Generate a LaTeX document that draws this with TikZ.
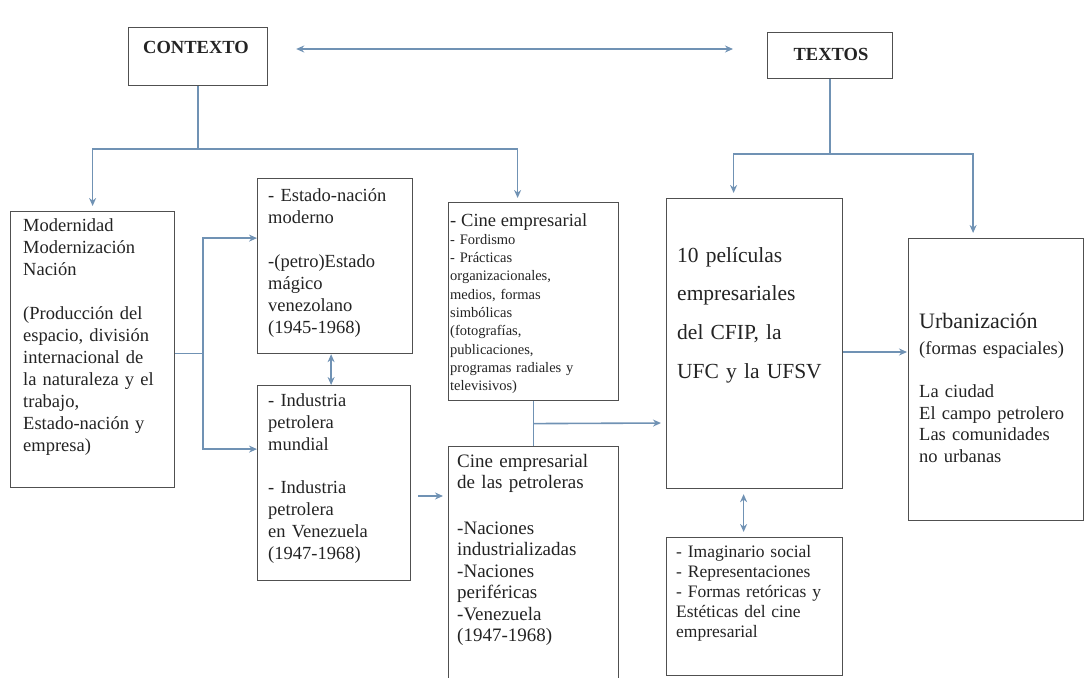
\documentclass[tikz,border=0pt]{standalone}
\usepackage{fontspec}
\setmainfont{Liberation Serif}
\usetikzlibrary{calc,arrows.meta}
\definecolor{azul}{RGB}{112,146,180}
\definecolor{borde}{RGB}{80,80,80}
\definecolor{tinta}{RGB}{35,35,35}
\begin{document}
\begin{tikzpicture}[x=1pt,y=-1pt,>={Stealth[length=8pt,width=7pt]},
    caja/.style={draw=borde,line width=1.2pt,anchor=north west,inner sep=0pt},
    txt/.style={anchor=base west,align=left,inner sep=0pt,text width=215pt,text=tinta,font=\fontsize{18.5}{22}\selectfont},
    flecha/.style={draw=azul,line width=1.6pt}]
        \useasboundingbox (0,0) rectangle (1091,677);
        \clip (0,0) rectangle (1091,677);
        \node[caja,minimum width=139pt,minimum height=58pt] (contexto) at (128,27) {};
        \node[caja,minimum width=125pt,minimum height=46pt] (textos) at (767,32) {};
        \node[caja,minimum width=164pt,minimum height=276pt] (moder) at (10,211) {};
        \node[caja,minimum width=155pt,minimum height=175pt] (estado) at (257,178) {};
        \node[caja,minimum width=153pt,minimum height=195pt] (industria) at (257,385) {};
        \node[caja,minimum width=170pt,minimum height=198pt] (cine) at (448,202) {};
        \node[caja,minimum width=170pt,minimum height=260pt] (petroleras) at (448,446) {};
        \node[caja,minimum width=176pt,minimum height=290pt] (peliculas) at (666,198) {};
        \node[caja,minimum width=175pt,minimum height=282pt] (urbaniz) at (908,238) {};
        \node[caja,minimum width=176pt,minimum height=138pt] (imaginario) at (666,537) {};
        \node[text=tinta,font=\bfseries\fontsize{18.5}{22}\selectfont] (contexto-t) at (196,47) {CONTEXTO};
        \node[text=tinta,font=\bfseries\fontsize{18.5}{22}\selectfont] (textos-t) at (831,54) {TEXTOS};
        \node[txt] (moder-t) at (23,231) {Modernidad\\ Modernización\\ Nación\\[22pt]
            (Producción del\\ espacio, división\\ internacional de\\ la naturaleza y el\\ trabajo,\\ Estado-nación y\\ empresa)};
        \node[txt] (estado-t) at (268,201) {- Estado-nación\\ moderno\\[22pt]
            -(petro)Estado\\ mágico\\ venezolano\\ (1945-1968)};
        \node[txt] (industria-t) at (268,406) {- Industria\\ petrolera\\ mundial\\[21pt]
            - Industria\\ petrolera\\ en Venezuela\\ (1947-1968)};
        \node[txt,font=\fontsize{14.5}{18.3}\selectfont] (cine-t) at (450,226) {{\fontsize{18.5}{18}\selectfont - Cine empresarial}\\
            - Fordismo\\ - Prácticas\\ organizacionales,\\ medios, formas\\ simbólicas\\ (fotografías,\\ publicaciones,\\ programas radiales y\\ televisivos)};
        \node[txt,font=\fontsize{19}{21.5}\selectfont] (petroleras-t) at (457,467) {Cine empresarial\\ de las petroleras\\[24pt]
            -Naciones\\ industrializadas\\ -Naciones\\ periféricas\\ -Venezuela\\ (1947-1968)};
        \node[txt,font=\fontsize{21.5}{38.7}\selectfont] (peliculas-t) at (677,262) {10 películas\\ empresariales\\ del CFIP, la\\ UFC y la UFSV};
        \node[txt,font=\fontsize{18.5}{21.7}\selectfont] (urbaniz-t) at (919,328) {{\fontsize{22}{22}\selectfont Urbanización}\\[5pt]
            (formas espaciales)\\[21pt] La ciudad\\ El campo petrolero\\ Las comunidades\\ no urbanas};
        \node[txt,font=\fontsize{17.5}{20}\selectfont] (imaginario-t) at (676,557) {- Imaginario social\\ - Representaciones\\
            - Formas retóricas y\\ Estéticas del cine\\ empresarial};
        \draw[flecha,<->,shorten <=28pt,shorten >=34pt] (contexto.east |- 0,49) -- (textos.west |- 0,49);
        \draw[flecha] (contexto.south) -- ++(0,63) coordinate (ramaC);
        \draw[flecha,->,shorten >=5pt] (ramaC) -| (moder.north);
        \draw[flecha,->,shorten >=4pt] (ramaC) -| ([xshift=-16pt]cine.north);
        \draw[flecha] (textos.south) -- ++(0,75) coordinate (ramaT);
        \draw[flecha,->,shorten >=5pt] (ramaT) -| ([xshift=-21pt]peliculas.north);
        \draw[flecha,->,shorten >=5pt] (ramaT) -| ([xshift=-23pt]urbaniz.north);
        \draw[flecha] ([yshift=-4pt]moder.east) -- ++(28,0) coordinate (ramaM);
        \draw[flecha,->] (ramaM) |- ([yshift=28pt]estado.west);
        \draw[flecha,->] (ramaM) |- ([yshift=34pt]industria.west);
        \draw[flecha,<->] ([xshift=-4pt]estado.south) -- ([xshift=-3pt]industria.north);
        \draw[flecha,->,shorten <=7pt,shorten >=5pt] (industria.east |- 0,496) -- (petroleras.west |- 0,496);
        \draw[flecha] (cine.south) -- (petroleras.north);
        \draw[flecha,->,shorten >=5pt] ($(cine.south)!0.5!(petroleras.north)$) -- (peliculas.west |- 0,423);
        \draw[flecha,->,shorten >=1pt] (peliculas.east |- 0,352) -- (urbaniz.west |- 0,352);
        \draw[flecha,<->,shorten <=5pt,shorten >=5pt] ([xshift=-11pt]peliculas.south) -- ([xshift=-11pt]imaginario.north);
\end{tikzpicture}
\end{document}
